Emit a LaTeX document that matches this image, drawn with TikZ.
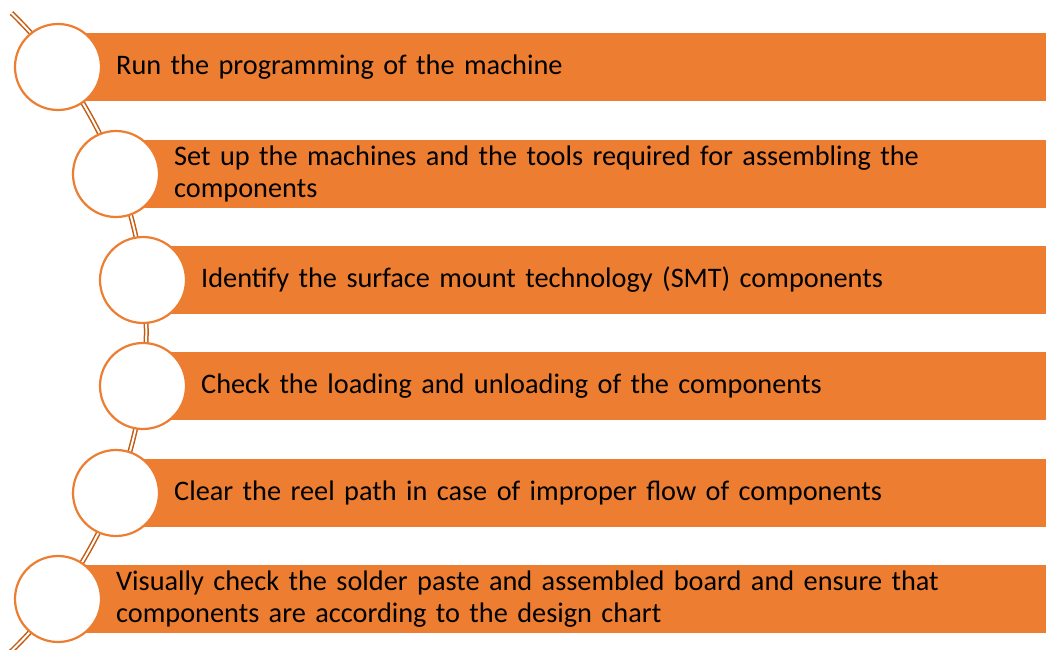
\documentclass[tikz,border=0pt]{standalone}
\usepackage{fontspec}
\setmainfont{Carlito}
\usetikzlibrary{positioning}
\definecolor{barorange}{HTML}{ED7D31}
\definecolor{linkbrown}{HTML}{C55A11}

\begin{document}
\begin{tikzpicture}[x=1pt, y=1pt,
    bar/.style={fill=barorange, anchor=west, minimum height=68pt, inner xsep=58pt, inner ysep=0pt, align=left, font=\fontsize{28.3}{32}\selectfont},
    ring/.style={circle, draw=barorange, line width=2.2pt, fill=white, minimum size=86pt, inner sep=0pt},
    link/.style={draw=linkbrown, double=white, double distance=2pt, line width=1.5pt}]
    \useasboundingbox (0,0) rectangle (1046,649);

    % the chain behind the rings
    \coordinate (top) at (11.5,636);
    \draw[link] (top) arc[start angle=45.8, end angle=-46.5, radius=445];

    % bars
    \node[bar, text width=872pt] (b1) at (58,582) {Run the programming of the machine};
    \node[bar, text width=814pt] (b2) at (116,475) {Set up the machines and the tools required for assembling the\\components};
    \node[bar, text width=787pt] (b3) at (143,369) {Identify the surface mount technology (SMT) components};
    \node[bar, text width=787pt] (b4) at (143,263) {Check the loading and unloading of the components};
    \node[bar, text width=814pt] (b5) at (116,156) {Clear the reel path in case of improper flow of components};
    \node[bar, text width=872pt] (b6) at (58,50) {Visually check the solder paste and assembled board and ensure that\\components are according to the design chart};

    % rings
    \node[ring] (c1) at (b1.west) {};
    \node[ring] (c2) at (b2.west) {};
    \node[ring] (c3) at (b3.west) {};
    \node[ring] (c4) at (b4.west) {};
    \node[ring] (c5) at (b5.west) {};
    \node[ring] (c6) at (b6.west) {};
\end{tikzpicture}
\end{document}
